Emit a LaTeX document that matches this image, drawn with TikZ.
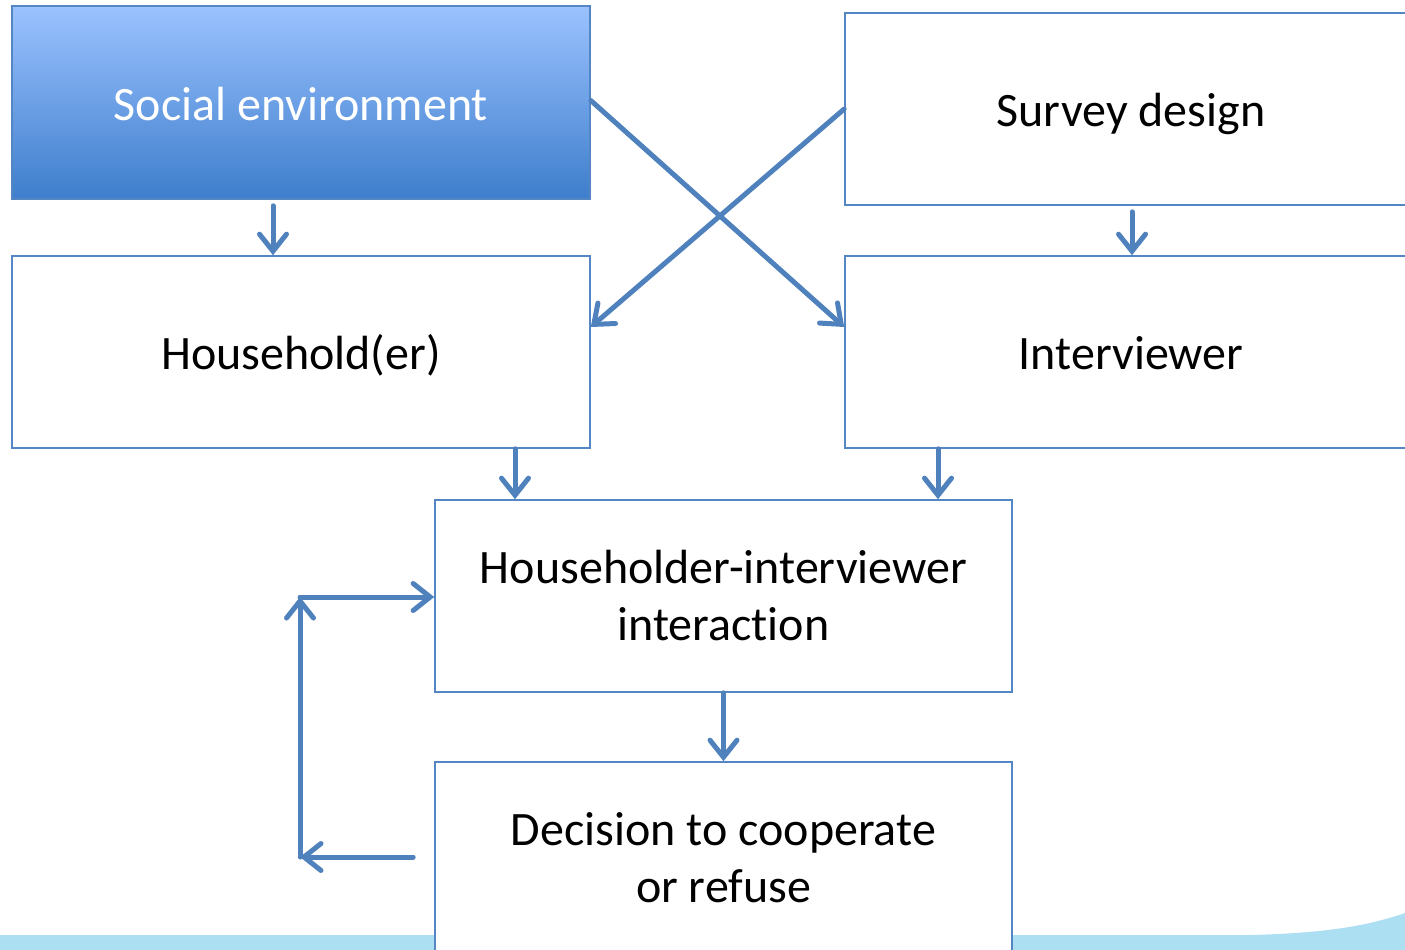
\documentclass[tikz,border=0pt]{standalone}
\usepackage{fontspec}
\setmainfont[Ligatures=NoCommon]{Carlito}
\usetikzlibrary{arrows.meta}
\definecolor{lineblue}{RGB}{79,129,189}
\definecolor{boxline}{RGB}{84,134,196}
\definecolor{gradtop}{RGB}{155,194,255}
\definecolor{gradmid}{RGB}{118,163,232}
\definecolor{gradbot}{RGB}{62,126,204}
\definecolor{bandblue}{RGB}{173,223,243}
\tikzset{
  box/.style={draw=boxline, line width=1.6pt, fill=white, minimum width=577pt, minimum height=192pt,
    inner sep=0pt, align=center, font=\fontsize{48}{57}\selectfont, text=black},
  oneline/.style={text height=40pt, text depth=5pt},
  arr/.style={draw=lineblue, line width=5pt, line cap=round, line join=round,
    -{Straight Barb[length=17pt, width=27pt, line cap=round]}}
}
\begin{document}
\begin{tikzpicture}[x=1pt,y=-1pt]
\useasboundingbox (0,0) rectangle (1405,950);
\clip (0,0) rectangle (1405,950);
% bottom band
\fill[bandblue] (0,935) -- (1250,935) .. controls (1330,933) and (1370,925) .. (1405,913) -- (1405,950) -- (0,950) -- cycle;
% boxes
\node[box, oneline, top color=gradtop, middle color=gradmid, bottom color=gradbot, text=white, minimum width=578pt, minimum height=193pt] (social) at (301,102.5) {Social environment};
\node[box, oneline, minimum width=572pt] (survey) at (1131,109) {Survey design};
\node[box, oneline, minimum width=578pt] (household) at (301,352) {Household(er)};
\node[box, oneline, minimum width=572pt] (interviewer) at (1131,352) {Interviewer};
\node[box] (interaction) at (723.5,596) {Householder-interviewer\\interaction};
\node[box] (decision) at (723.5,858) {Decision to cooperate\\or refuse};
% arrows
\draw[arr] ([xshift=-28pt,yshift=-6pt]social.south) -- ([xshift=-28pt]household.north);
\draw[arr] ([xshift=1pt,yshift=-6pt]survey.south) -- ([xshift=1pt]interviewer.north);
\draw[arr] ([yshift=2pt]social.east) -- ([yshift=25pt]interviewer.west);
\draw[arr] (survey.west) -- ([yshift=25pt]household.east);
\draw[arr] ([xshift=214pt]household.south) -- ([xshift=-208.5pt]interaction.north);
\draw[arr] ([xshift=-193pt]interviewer.south) -- ([xshift=214.5pt]interaction.north);
\draw[arr] (interaction.south) -- (decision.north);
% feedback loop
\coordinate (fbstart) at ([xshift=-21pt,yshift=1pt]decision.west);
\coordinate (fbbot) at (300,857);
\coordinate (fbtop) at (300,597);
\draw[arr] (fbstart) -- (fbbot);
\draw[arr] (fbbot) -- (fbtop);
\draw[arr] (fbtop) -- ([yshift=-1pt]interaction.west);
\end{tikzpicture}
\end{document}
